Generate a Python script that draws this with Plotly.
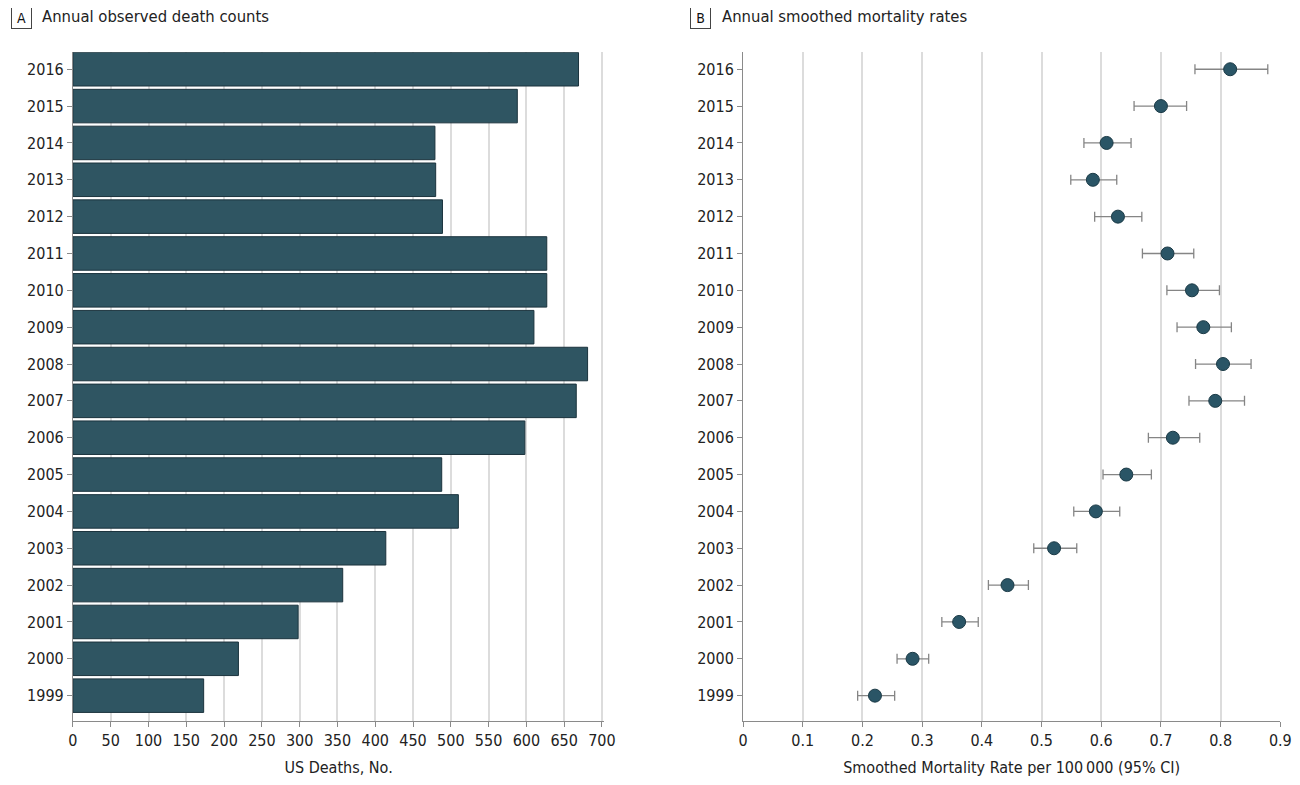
import plotly.graph_objects as go

years = [str(y) for y in range(1999, 2017)]

# panel A: observed deaths per year
deaths = [173, 219, 298, 357, 414, 510, 488, 598, 666, 681,
          610, 627, 627, 489, 480, 479, 588, 669]

# panel B: smoothed rate per 100 000 with 95% CI
rate = [0.221, 0.284, 0.362, 0.443, 0.521, 0.591, 0.642, 0.720, 0.791, 0.804,
        0.771, 0.752, 0.711, 0.628, 0.586, 0.609, 0.700, 0.816]
rate_lo = [0.192, 0.258, 0.333, 0.411, 0.487, 0.554, 0.603, 0.679, 0.747, 0.758,
           0.727, 0.710, 0.669, 0.589, 0.549, 0.571, 0.655, 0.757]
rate_hi = [0.254, 0.311, 0.394, 0.478, 0.559, 0.631, 0.684, 0.765, 0.840, 0.851,
           0.818, 0.798, 0.755, 0.668, 0.626, 0.650, 0.743, 0.879]

W, H = 1300, 769
FONT = "DejaVu Sans Condensed, Liberation Sans Narrow, Roboto, sans-serif"
BAR = "#2f5562"
EDGE = "#1b333d"
GRID = "#dcdcdc"
AXIS = "#8a8a8a"


# screen position (in the photographed page) -> paper fraction
def px(x):
    return (x - 11) / 0.989 / W


def py(y):
    return 1 - (y - 8) / H


fig = go.Figure()

fig.add_trace(go.Bar(
    x=deaths, y=years, orientation="h",
    marker=dict(color=BAR, line=dict(color=EDGE, width=1)),
    xaxis="x", yaxis="y", showlegend=False,
))

fig.add_trace(go.Scatter(
    x=rate, y=years, mode="markers",
    marker=dict(size=13, color="#2a5566", line=dict(color="#1b3a46", width=1)),
    error_x=dict(type="data", symmetric=False,
                 array=[h - m for h, m in zip(rate_hi, rate)],
                 arrayminus=[m - l for m, l in zip(rate, rate_lo)],
                 color="#858585", thickness=1.3, width=5),
    xaxis="x2", yaxis="y2", showlegend=False,
))

ax_common = dict(
    showline=True, linecolor=AXIS, linewidth=1,
    ticks="outside", ticklen=5, tickcolor=AXIS,
    tickfont=dict(size=16, color="#222"),
    zeroline=False,
)

y_dom = [py(732), py(53)]
y_rng = [-0.68, 17.46]

fig.update_layout(
    width=W, height=H,
    margin=dict(l=0, r=0, t=0, b=0),
    paper_bgcolor="white", plot_bgcolor="white",
    font=dict(family=FONT, color="#222"),
    bargap=0.09,
    xaxis=dict(domain=[px(71), px(603)], range=[0, 703], dtick=50,
               showgrid=True, gridcolor=GRID, gridwidth=1.5,
               title=dict(text="US Deaths, No.", font=dict(size=16), standoff=16),
               anchor="y", **ax_common),
    yaxis=dict(domain=y_dom, range=y_rng, type="category",
               showgrid=False, anchor="x", **ax_common),
    xaxis2=dict(domain=[px(742), px(1280)], range=[0, 0.9], dtick=0.1,
                tickformat="~g",
                showgrid=True, gridcolor=GRID, gridwidth=1.5,
                title=dict(text="Smoothed Mortality Rate per 100\u2009000 (95% CI)",
                           font=dict(size=16), standoff=16),
                anchor="y2", **ax_common),
    yaxis2=dict(domain=y_dom, range=y_rng, type="category",
                showgrid=False, anchor="x2", **ax_common),
)

# panel letters and titles
for letter, lx, tx, title in [("A", 20, 38, "Annual observed death counts"),
                              ("B", 699, 719, "Annual smoothed mortality rates")]:
    fig.add_annotation(x=px(lx), y=py(18), xref="paper", yref="paper",
                       text=letter, showarrow=False,
                       font=dict(size=14, color="#111"),
                       bordercolor="#444", borderwidth=1, borderpad=2,
                       xanchor="center", yanchor="middle", width=15, height=17)
    fig.add_annotation(x=px(tx), y=py(17), xref="paper", yref="paper",
                       text=title, showarrow=False,
                       font=dict(size=16.5, color="#222"),
                       xanchor="left", yanchor="middle")

fig.write_html("out.html")
